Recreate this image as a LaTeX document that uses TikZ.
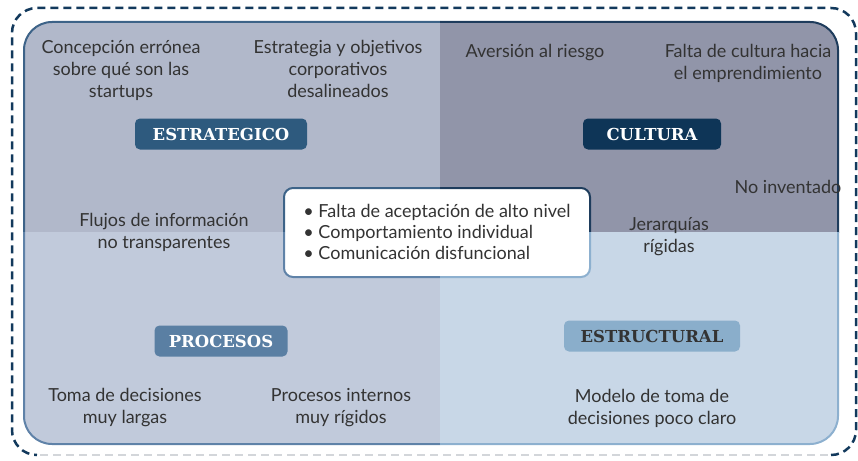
\documentclass[tikz,border=0pt]{standalone}
\usepackage{fontspec}
\setmainfont{Lato}
\newfontfamily\slabfont{DejaVu Serif}
\usepackage{xcolor}
\definecolor{dashblue}{HTML}{12395C}
\definecolor{dashgray}{HTML}{D3D6DA}
\definecolor{tlfill}{HTML}{B1B8CA}
\definecolor{trfill}{HTML}{9195A9}
\definecolor{blfill}{HTML}{C1CADB}
\definecolor{brfill}{HTML}{C8D7E7}
\definecolor{tlline}{HTML}{3D6388}
\definecolor{trline}{HTML}{1E3C5C}
\definecolor{blline}{HTML}{5F82A8}
\definecolor{brline}{HTML}{8DB0CF}
\definecolor{estrcol}{HTML}{2E5A7E}
\definecolor{cultcol}{HTML}{0E3557}
\definecolor{proccol}{HTML}{5A7FA3}
\definecolor{struccol}{HTML}{8AAECB}
\definecolor{textgray}{HTML}{333333}

\begin{document}
\begin{tikzpicture}
	[x=1pt, y=-1pt,
	every node/.style={font=\fontsize{18}{22}\selectfont, text=textgray, align=center},
	catbox/.style={rounded corners=5pt, minimum height=31pt, inner sep=0pt, text=white,
		font=\slabfont\bfseries\fontsize{16.5}{18}\selectfont},
	quad/.style={line width=2pt, rounded corners=28pt},
	dashline/.style={line width=2.5pt, dash pattern=on 8pt off 5pt}]
	\useasboundingbox (0,0) rectangle (858,460);
	\draw[dashline, draw=dashblue, rounded corners=25pt] (831,455) -- (856,455) -- (856,8) -- (12,8) -- (12,455) -- (37,455);
	\draw[dashline, draw=dashgray] (40,455) -- (828,455);
	\foreach \xa/\ya/\xb/\yb/\fillc/\linec in {0/0/440/232/tlfill/tlline, 440/0/858/232/trfill/trline,
		0/232/440/460/blfill/blline, 440/232/858/460/brfill/brline}{
		\begin{scope}
			\clip (\xa,\ya) rectangle (\xb,\yb);
			\draw[quad, fill=\fillc, draw=\linec] (24,22) rectangle (838,444);
			\draw[line width=2pt, rounded corners=9pt, fill=white, draw=\linec] (284,188) rectangle (590,277);
		\end{scope}
	}
	\node[catbox, fill=estrcol, minimum width=172pt] (estrategico) at (221,134) {ESTRATEGICO};
	\node[catbox, fill=cultcol, minimum width=138pt] (cultura) at (652,134) {CULTURA};
	\node[catbox, fill=proccol, minimum width=133pt] (procesos) at (221,341) {PROCESOS};
	\node[catbox, fill=struccol, minimum width=176pt, text=textgray] (estructural) at (652,336) {ESTRUCTURAL};
	\node (concepcion) at (121,70) {Concepción errónea\\sobre qué son las\\startups};
	\node (objetivos) at (338,69) {Estrategia y objetivos\\corporativos\\desalineados};
	\node (aversion) at (535,53) {Aversión al riesgo};
	\node (emprendimiento) at (748,63) {Falta de cultura hacia\\el emprendimiento};
	\node (inventado) at (788,187) {No inventado};
	\node (jerarquias) at (669,237) {Jerarquías\\rígidas};
	\node (flujos) at (164,232) {Flujos de información\\no transparentes};
	\node[align=left, font=\fontsize{18}{21}\selectfont] (barreras) at (437,232)
		{• Falta de aceptación de alto nivel\\• Comportamiento individual\\• Comunicación disfuncional};
	\node (toma) at (125,408) {Toma de decisiones\\muy largas};
	\node (internos) at (341,408) {Procesos internos\\muy rígidos};
	\node (modelo) at (652,408) {Modelo de toma de\\decisiones poco claro};
\end{tikzpicture}
\end{document}
